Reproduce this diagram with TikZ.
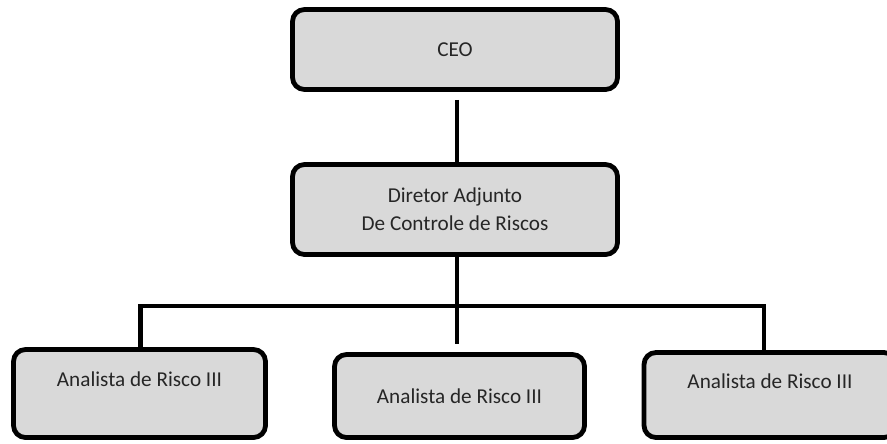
\documentclass[tikz,border=0pt]{standalone}
\usepackage{fontspec}
\setmainfont{Carlito}
\usepackage{tikz}
\usetikzlibrary{positioning,calc}
\definecolor{boxgray}{HTML}{D9D9D9}
\tikzstyle{post} = [rectangle, draw=black, fill=boxgray, line width=3.6pt, rounded corners=9pt, align=center, text=black!85, font=\fontsize{15.9}{21}\selectfont, inner sep=0pt]
\tikzset{link/.style = {
    line width=3.6pt,
    line cap=butt,
  }
}

\begin{document}
\begin{tikzpicture}[x=0.75pt, y=-0.75pt]
            \useasboundingbox (0,0) rectangle (887,443);
            \clip (0,0) rectangle (887,443);
            % vertices
            \node[post, minimum width=243.75pt, minimum height=60pt] (ceo) at (455, 49.5) {CEO};
            \node[post, minimum width=243.75pt, minimum height=67.5pt] (dir) at (455, 209.5) {Diretor Adjunto\\De Controle de Riscos};
            \node[post, minimum width=189pt, minimum height=66pt] (an1) at (139.5, 393.5) {Analista de Risco III\\\mbox{}};
            \node[post, minimum width=187.5pt, minimum height=62.25pt] (an2) at (459.5, 396) {Analista de Risco III};
            \node[post, minimum width=189pt, minimum height=63.75pt] (an3) at (770, 395) {Analista de Risco III\\\mbox{}};

            \coordinate (bus) at (457, 306);

            %edges
            \draw[link, shorten <=6pt] ([xshift=1.5pt]ceo.south) -- ([xshift=1.5pt]dir.north);
            \draw[link, shorten >=6pt] (bus |- dir.south) -- (bus |- an2.north);
            \draw[link] ([xshift=1pt]an1.north) -- ([xshift=1pt]an1.north |- bus) -- ([xshift=-4.5pt]an3.north |- bus) -- ([xshift=-4.5pt]an3.north);
\end{tikzpicture}
\end{document}
